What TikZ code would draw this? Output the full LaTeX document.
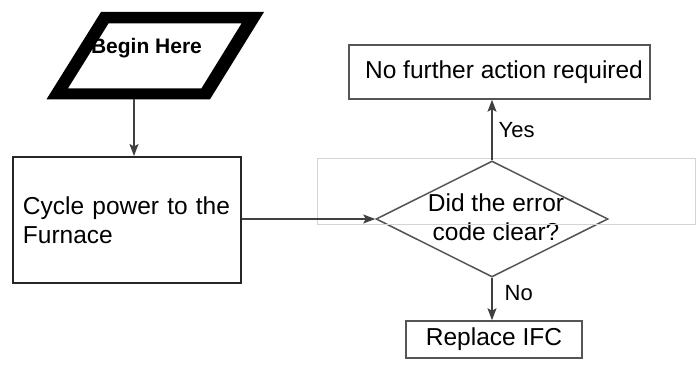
\documentclass[tikz,border=0pt]{standalone}
\usepackage{fontspec}
\setmainfont{Liberation Sans}
\usetikzlibrary{arrows.meta,shapes.geometric}
\definecolor{linegray}{HTML}{404040}
\definecolor{boxgray}{HTML}{555555}
\definecolor{framegray}{HTML}{D4D4D4}
\tikzset{
  conn/.style={draw=linegray, line width=1.3pt, -{Stealth[length=12pt,width=9pt,inset=2.5pt]}},
  stepbox/.style={draw=boxgray, line width=1.5pt, fill=white, inner sep=0pt},
  bigtxt/.style={font=\fontsize{24.5}{28.5}\selectfont},
  lbltxt/.style={font=\fontsize{22}{26}\selectfont, inner sep=0pt},
}
\begin{document}
\begin{tikzpicture}[x=1pt,y=-1pt]
\useasboundingbox (0,0) rectangle (697,371);
% start parallelogram (thick black border)
\fill[black,even odd rule]
  (101,12) -- (264,12) -- (210,99.3) -- (46.5,99.3) -- cycle
  (108.5,23.5) -- (241.5,23.5) -- (201.5,88.3) -- (68,88.3) -- cycle;
\node[inner sep=0pt, font=\fontsize{21}{25}\selectfont\bfseries] (begin) at (146.5,47.7) {Begin Here};
\coordinate (beginbot) at (134,99.3);
% cycle power box
\node[stepbox, draw=black!85, line width=2pt, minimum height=126pt, inner xsep=10pt, text width=208pt, align=left, bigtxt] (cycle) at (127,220) {Cycle power to the\\Furnace};
% decision diamond
\node[diamond, draw=boxgray, line width=1.5pt, minimum width=232pt, minimum height=116pt, inner sep=0pt, aspect=2] (dec) at (492,219) {};
\node[bigtxt, inner sep=0pt, align=center] (dectext) at (496,217) {Did the error\\code clear?};
% result boxes
\node[stepbox, minimum width=301pt, minimum height=54pt, bigtxt] (nfa) at (499.5,72) {\hspace*{9pt}No further action required};
\node[stepbox, minimum width=176pt, minimum height=37pt, bigtxt] (ifc) at (494,339.5) {Replace IFC};
% light frame
\draw[framegray, line width=0.8pt] (317,158.5) rectangle (695.5,224.5);
% connectors
\draw[conn] (beginbot) -- (beginbot |- cycle.north);
\draw[conn] (cycle.east |- dec.west) -- (dec.west);
\draw[conn] (dec.north) -- (dec.north |- nfa.south) node[pos=0.5, right=6pt, lbltxt] {Yes};
\draw[conn] (dec.south) -- (dec.south |- ifc.north) node[pos=0.35, right=12pt, lbltxt] {No};
\end{tikzpicture}
\end{document}
